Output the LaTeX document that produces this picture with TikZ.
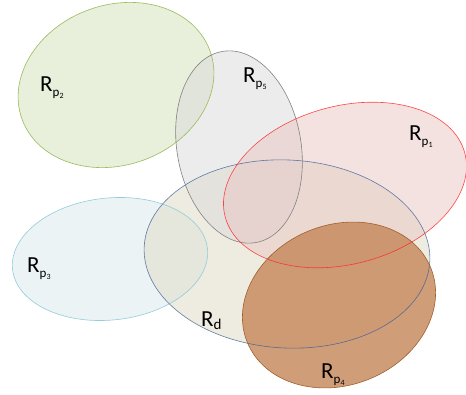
\documentclass[tikz,border=0pt]{standalone}
\usepackage{fontspec}
\setmainfont{Carlito}
\definecolor{gfill}{RGB}{213,225,190}
\definecolor{gline}{RGB}{155,187,89}
\definecolor{pfill}{RGB}{233,197,195}
\definecolor{pline}{RGB}{255,40,40}
\definecolor{cfill}{RGB}{222,235,239}
\definecolor{cline}{RGB}{146,205,220}
\definecolor{bfill}{RGB}{226,222,204}
\definecolor{bline}{RGB}{60,95,150}
\definecolor{kfill}{RGB}{220,220,220}
\definecolor{kline}{RGB}{130,130,130}
\definecolor{nfill}{RGB}{198,136,92}
\definecolor{nline}{RGB}{160,95,45}
\newcommand{\Rp}[1]{R\raisebox{-5pt}{\fontsize{13}{13}\selectfont p\raisebox{-2.5pt}{\fontsize{8}{8}\selectfont #1}}}
\newcommand{\Rdd}{R\raisebox{-3.5pt}{\fontsize{15}{15}\selectfont d}}
\tikzset{
  lab/.style={anchor=base west, inner sep=0pt, font=\fontsize{23}{23}\selectfont},
  reg/.style={line width=0.6pt},
}
\begin{document}
\begin{tikzpicture}[x=1pt,y=-1pt]
\useasboundingbox (0,0) rectangle (466,394);
% fills
\fill[gfill, fill opacity=0.55, rotate around={20:(116,85)}] (116,85) ellipse [x radius=100pt, y radius=80pt];
\fill[cfill, fill opacity=0.6, rotate around={6:(110,259)}] (110,259) ellipse [x radius=98pt, y radius=61pt];
\fill[bfill, fill opacity=0.6, rotate around={-3:(287,254)}] (287,254) ellipse [x radius=143pt, y radius=94pt];
\fill[kfill, fill opacity=0.55, rotate around={10:(239,147)}] (239,147) ellipse [x radius=62pt, y radius=97pt];
\fill[pfill, fill opacity=0.5, rotate around={15:(345,185)}] (345,185) ellipse [x radius=124pt, y radius=79pt];
\fill[nfill, fill opacity=0.82, rotate around={22:(339,305)}] (339,305) ellipse [x radius=99pt, y radius=80pt];
% outlines
\draw[reg, gline, rotate around={20:(116,85)}] (116,85) ellipse [x radius=100pt, y radius=80pt];
\draw[reg, cline, rotate around={6:(110,259)}] (110,259) ellipse [x radius=98pt, y radius=61pt];
\draw[reg, bline, draw opacity=0.8, rotate around={-3:(287,254)}] (287,254) ellipse [x radius=143pt, y radius=94pt];
\draw[reg, kline, rotate around={10:(239,147)}] (239,147) ellipse [x radius=62pt, y radius=97pt];
\draw[reg, pline, draw opacity=0.85, rotate around={15:(345,185)}] (345,185) ellipse [x radius=124pt, y radius=79pt];
\draw[reg, nline, rotate around={22:(339,305)}] (339,305) ellipse [x radius=99pt, y radius=80pt];
% labels
\node[lab] (l2) at (40,91) {\Rp{2}};
\node[lab] (l5) at (243,82) {\Rp{5}};
\node[lab] (l1) at (409,140) {\Rp{1}};
\node[lab] (l3) at (27,272) {\Rp{3}};
\node[lab] (ld) at (201,326) {\Rdd};
\node[lab] (l4) at (321,378) {\Rp{4}};
\end{tikzpicture}
\end{document}
